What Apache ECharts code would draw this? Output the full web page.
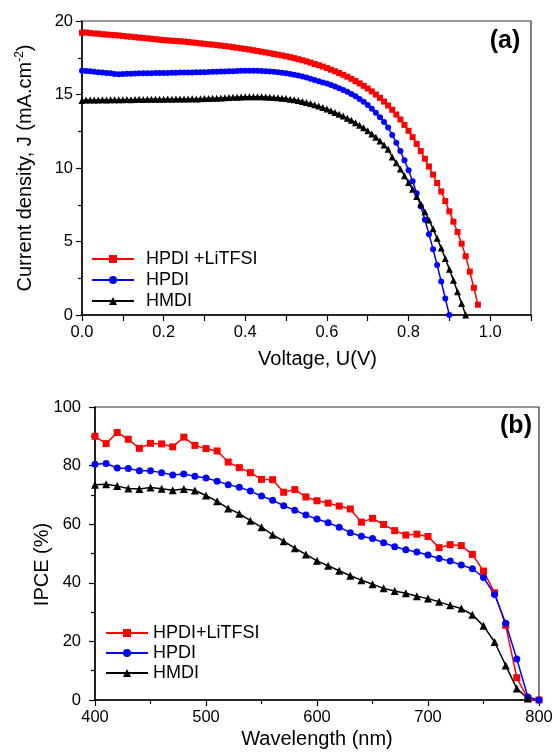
<!DOCTYPE html>
<html>
<head>
<meta charset="utf-8">
<script src="https://cdn.jsdelivr.net/npm/echarts@6/dist/echarts.min.js"></script>
<style>
html,body{margin:0;padding:0;background:#fff;}
#c{width:556px;height:752px;}
</style>
</head>
<body>
<div id="c"></div>
<script>
// ---------- Panel (a): J-V curves ----------
var voltage = [0.00,0.01,0.02,0.03,0.04,0.05,0.06,0.07,0.08,0.09,0.10,0.11,0.12,0.13,0.14,0.15,0.16,0.17,0.18,0.19,
0.20,0.21,0.22,0.23,0.24,0.25,0.26,0.27,0.28,0.29,0.30,0.31,0.32,0.33,0.34,0.35,0.36,0.37,0.38,0.39,
0.40,0.41,0.42,0.43,0.44,0.45,0.46,0.47,0.48,0.49,0.50,0.51,0.52,0.53,0.54,0.55,0.56,0.57,0.58,0.59,
0.60,0.61,0.62,0.63,0.64,0.65,0.66,0.67,0.68,0.69,0.70,0.71,0.72,0.73,0.74,0.75,0.76,0.77,0.78,0.79,
0.80,0.81,0.82,0.83,0.84,0.85,0.86,0.87,0.88,0.89,0.90,0.91,0.92,0.93,0.94,0.95,0.96,0.97];

var jHpdiLi = [19.20,19.22,19.18,19.15,19.14,19.10,19.08,19.06,19.04,19.02,
18.98,18.95,18.93,18.90,18.87,18.85,18.82,18.79,18.76,18.73,
18.70,18.68,18.66,18.64,18.62,18.60,18.57,18.54,18.51,18.48,
18.45,18.42,18.39,18.36,18.33,18.30,18.26,18.22,18.18,18.14,
18.10,18.06,18.01,17.96,17.91,17.86,17.81,17.76,17.71,17.66,
17.60,17.54,17.47,17.40,17.33,17.25,17.17,17.08,16.99,16.90,
16.80,16.69,16.58,16.46,16.34,16.21,16.07,15.92,15.76,15.59,
15.41,15.21,15.00,14.77,14.52,14.25,13.96,13.64,13.30,12.93,
12.53,12.10,11.64,11.15,10.63,10.10,9.55,8.98,8.40,7.75,
7.05,6.35,5.65,4.85,4.00,2.95,1.85,0.70];

var jHpdi = [16.62,16.60,16.58,16.55,16.52,16.50,16.47,16.44,16.40,16.38,
16.40,16.42,16.42,16.43,16.44,16.44,16.45,16.45,16.46,16.46,
16.47,16.47,16.48,16.48,16.49,16.49,16.50,16.50,16.51,16.52,
16.52,16.53,16.54,16.55,16.56,16.57,16.58,16.59,16.60,16.61,
16.62,16.62,16.62,16.61,16.60,16.58,16.56,16.54,16.51,16.48,
16.44,16.40,16.35,16.29,16.22,16.15,16.07,15.99,15.90,15.82,
15.74,15.64,15.54,15.43,15.31,15.18,15.04,14.88,14.70,14.50,
14.28,14.03,13.76,13.46,13.13,12.76,12.25,11.72,11.15,10.52,
9.85,9.10,8.28,7.40,6.48,5.50,4.48,3.40,2.28,1.12,
0.00];

var jHmdi = [14.60,14.62,14.63,14.62,14.63,14.64,14.63,14.64,14.65,14.64,
14.65,14.66,14.65,14.66,14.67,14.66,14.67,14.68,14.67,14.68,
14.68,14.69,14.68,14.69,14.70,14.69,14.70,14.71,14.70,14.71,
14.72,14.73,14.74,14.75,14.77,14.78,14.80,14.81,14.82,14.83,
14.84,14.85,14.85,14.85,14.84,14.83,14.82,14.80,14.78,14.75,
14.72,14.68,14.64,14.59,14.53,14.46,14.38,14.30,14.21,14.11,
14.01,13.90,13.78,13.66,13.53,13.39,13.24,13.08,12.91,12.73,
12.53,12.32,12.09,11.84,11.57,11.28,10.75,10.35,9.93,9.48,
9.02,8.55,8.06,7.55,7.02,6.46,5.86,5.22,4.55,3.85,
3.12,2.36,1.58,0.78,0.00];

// ---------- Panel (b): IPCE ----------
var wavelength = [400,410,420,430,440,450,460,470,480,490,500,510,520,530,540,550,560,570,580,590,
600,610,620,630,640,650,660,670,680,690,700,710,720,730,740,750,760,770,780,790,800];

var ipceHpdiLi = [90.0,87.5,91.3,89.0,85.9,87.6,87.4,86.4,89.7,86.9,85.8,85.0,81.2,79.3,77.6,75.3,75.2,70.9,71.8,69.3,
68.0,67.2,66.2,65.2,60.7,62.0,59.9,57.8,56.3,56.6,55.8,52.0,53.0,52.7,49.7,44.0,36.6,25.5,7.6,0.5,0.0];

var ipceHpdi = [80.5,80.7,79.2,79.0,78.2,78.2,77.6,76.8,77.1,76.4,75.8,74.7,73.5,72.6,71.3,69.6,68.2,66.3,64.8,63.1,
61.8,60.5,59.0,57.1,55.9,55.1,53.7,52.3,51.3,50.5,49.5,48.3,47.4,46.1,44.8,41.8,36.0,26.2,14.0,1.0,0.0];

var ipceHmdi = [73.5,73.6,73.0,72.2,72.0,72.5,72.1,71.6,72.0,71.5,69.8,67.8,65.4,63.6,61.2,59.0,56.4,54.2,51.8,49.7,
47.5,45.8,44.1,42.4,40.9,39.5,38.1,37.2,36.4,35.4,34.6,33.5,32.3,31.2,29.1,25.3,19.8,11.8,3.9,0.5];

var namesA = ['HPDI +LiTFSI', 'HPDI', 'HMDI'];
var namesB = ['HPDI+LiTFSI', 'HPDI', 'HMDI'];

function pairs(xs, ys) { return ys.map(function (y, i) { return [xs[i], y]; }); }

var FONT = '"Liberation Sans", Arial, sans-serif';
var RED = '#ff0000', BLUE = '#0000ff', BLACK = '#000000';

function axisCommon() {
  return {
    axisLine: { show: true, onZero: false, lineStyle: { color: '#000', width: 1.5 } },
    axisTick: { show: true, inside: false, length: 6, lineStyle: { color: '#000', width: 1.2 } },
    minorTick: { show: true, splitNumber: 2, length: 4, lineStyle: { color: '#000', width: 1.2 } },
    splitLine: { show: false },
    axisLabel: { color: '#000', fontSize: 16.5, fontFamily: FONT, margin: 9 },
    nameMoveOverlap: false,
    nameTextStyle: { color: '#000', fontSize: 20, fontFamily: FONT }
  };
}
function merge(a, b) { for (var k in b) a[k] = b[k]; return a; }

var chart = echarts.init(document.getElementById('c'), null, { renderer: 'canvas' });

var option = {
  backgroundColor: '#ffffff',
  animation: false,
  grid: [
    { left: 82, right: 25, top: 21, bottom: 437, show: true, borderColor: '#333', borderWidth: 1.2, containLabel: false },
    { left: 95, right: 17, top: 407, bottom: 52, show: true, borderColor: '#333', borderWidth: 1.2, containLabel: false }
  ],
  xAxis: [
    merge(axisCommon(), {
      type: 'value', gridIndex: 0, min: 0, max: 1.1, interval: 0.1,
      minorTick: { show: false },
      axisLabel: { color: '#000', fontSize: 16.5, fontFamily: FONT, margin: 9,
        formatter: function (v) { var k = Math.round(v * 10); return (k % 2 === 0) ? (k / 10).toFixed(1) : ''; } },
      name: 'Voltage, U(V)', nameLocation: 'middle', nameGap: 34,
      nameTextStyle: { color: '#000', fontSize: 20, fontFamily: FONT, padding: [0, 0, 0, 22] }
    }),
    merge(axisCommon(), {
      type: 'value', gridIndex: 1, min: 400, max: 800, interval: 100,
      name: 'Wavelength (nm)', nameLocation: 'middle', nameGap: 29
    })
  ],
  yAxis: [
    merge(axisCommon(), {
      type: 'value', gridIndex: 0, min: 0, max: 20, interval: 5,
      name: '{t|Current density, J (mA.cm}{s|-2}{t|)}', nameLocation: 'middle', nameGap: 46,
      nameTextStyle: { color: '#000', fontFamily: FONT,
        rich: { t: { fontSize: 20, fontFamily: FONT, color: '#000', lineHeight: 22 },
                s: { fontSize: 12, fontFamily: FONT, color: '#000', lineHeight: 22, verticalAlign: 'top' } } }
    }),
    merge(axisCommon(), {
      type: 'value', gridIndex: 1, min: 0, max: 100, interval: 20,
      axisLabel: { color: '#000', fontSize: 16.5, fontFamily: FONT, margin: 14 },
      name: 'IPCE (%)', nameLocation: 'middle', nameGap: 43,
      nameTextStyle: { color: '#000', fontSize: 20, fontFamily: FONT, padding: [0, 22, 0, 0] }
    })
  ],
  legend: [
    { orient: 'vertical', left: 91, top: 250, padding: 0, itemWidth: 42, itemHeight: 10, itemGap: 3,
      data: namesA,
      textStyle: { color: '#000', fontSize: 18, fontFamily: FONT, lineHeight: 18, padding: [0, 0, 0, 7] } },
    { orient: 'vertical', left: 105, top: 624, padding: 0, itemWidth: 42, itemHeight: 10, itemGap: 2,
      data: namesB,
      textStyle: { color: '#000', fontSize: 18, fontFamily: FONT, lineHeight: 18 } }
  ],
  graphic: [
    { type: 'text', x: 505, y: 41, style: { text: '(a)', fontSize: 25, fontWeight: 'bold', fontFamily: FONT, fill: '#000', align: 'center', verticalAlign: 'middle' } },
    { type: 'text', x: 516, y: 426, style: { text: '(b)', fontSize: 25, fontWeight: 'bold', fontFamily: FONT, fill: '#000', align: 'center', verticalAlign: 'middle' } }
  ],
  series: [
    { name: namesA[0], type: 'line', xAxisIndex: 0, yAxisIndex: 0, data: pairs(voltage, jHpdiLi),
      symbol: 'rect', symbolSize: 6, color: RED, lineStyle: { width: 1.5, color: RED }, itemStyle: { color: RED } },
    { name: namesA[1], type: 'line', xAxisIndex: 0, yAxisIndex: 0, data: pairs(voltage, jHpdi),
      symbol: 'circle', symbolSize: 6, color: BLUE, lineStyle: { width: 1.5, color: BLUE }, itemStyle: { color: BLUE } },
    { name: namesA[2], type: 'line', xAxisIndex: 0, yAxisIndex: 0, data: pairs(voltage, jHmdi),
      symbol: 'triangle', symbolSize: 7, color: BLACK, lineStyle: { width: 1.5, color: BLACK }, itemStyle: { color: BLACK } },
    { name: namesB[0], type: 'line', xAxisIndex: 1, yAxisIndex: 1, data: pairs(wavelength, ipceHpdiLi),
      symbol: 'rect', symbolSize: 7, color: RED, lineStyle: { width: 1.5, color: RED }, itemStyle: { color: RED } },
    { name: namesB[1], type: 'line', xAxisIndex: 1, yAxisIndex: 1, data: pairs(wavelength, ipceHpdi),
      symbol: 'circle', symbolSize: 7, color: BLUE, lineStyle: { width: 1.5, color: BLUE }, itemStyle: { color: BLUE } },
    { name: namesB[2], type: 'line', xAxisIndex: 1, yAxisIndex: 1, data: pairs(wavelength, ipceHmdi),
      symbol: 'triangle', symbolSize: 8, color: BLACK, lineStyle: { width: 1.5, color: BLACK }, itemStyle: { color: BLACK } }
  ]
};
chart.setOption(option);
</script>
</body>
</html>
